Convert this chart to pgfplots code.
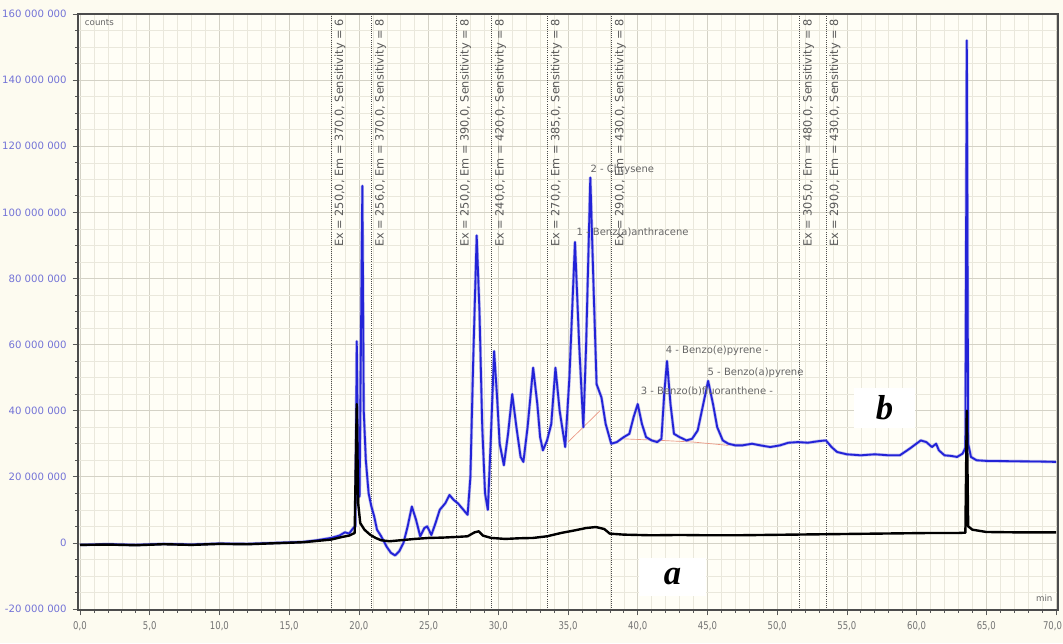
\documentclass[border=0pt]{standalone}
\usepackage{pgfplots}
\pgfplotsset{compat=1.18}
\usepackage{fontspec}
\setmainfont{DejaVu Sans}
\newfontfamily\tnr{Liberation Serif}
\definecolor{cream}{RGB}{253,251,240}
\definecolor{plotbg}{RGB}{255,254,246}
\definecolor{gridmaj}{RGB}{212,210,198}
\definecolor{gridmin}{RGB}{234,232,220}
\definecolor{ylab}{RGB}{115,115,215}
\definecolor{trace}{RGB}{35,35,215}
\definecolor{salmon}{RGB}{235,150,130}
\newcommand{\xl}[1]{\scalebox{0.8}[1]{#1}}

\pgfplotstableread{
t v
0 -0.6
2 -0.4
4 -0.6
6 -0.3
8 -0.5
10 -0.2
12 -0.3
14 0.0
16 0.3
17 0.8
18.0 1.5
18.6 2.2
19.0 3.2
19.3 2.8
19.6 4.5
19.75 5.0
19.85 61
19.95 20
20.05 14
20.25 108
20.35 40
20.5 25
20.7 15
20.9 11
21.1 8
21.3 4
21.6 2
22.0 -1.2
22.3 -3
22.6 -3.8
22.9 -2.5
23.2 0
23.5 5
23.8 11
24.1 7
24.4 2
24.7 4.5
24.9 5
25.2 2.4
25.5 6
25.8 10
26.2 12
26.5 14.5
26.8 13
27.1 12
27.5 10
27.8 8.5
28.0 20
28.2 55
28.45 93
28.65 70
28.85 35
29.05 15
29.25 10
29.45 30
29.7 58
29.9 45
30.1 30
30.4 23.5
30.7 33
31.0 45
31.3 35
31.6 26
31.8 24.5
32.1 35
32.5 53
32.8 42
33.0 32
33.2 28
33.5 31
33.8 36
34.1 53
34.4 40
34.8 29
35.1 50
35.5 91
35.8 60
36.1 35
36.3 60
36.6 110.5
36.85 75
37.05 48
37.4 44
37.7 36
38.1 30
38.5 30.5
39.0 32
39.4 33
39.7 38
40.0 42
40.3 36
40.6 32
41.0 31
41.4 30.5
41.7 31.5
41.9 45
42.1 55
42.35 42
42.6 33
43.0 32
43.5 31
43.9 31.5
44.3 34
44.7 42
45.05 49
45.4 42
45.7 35
46.1 31
46.5 30
47.0 29.5
47.5 29.5
48.2 30
48.8 29.5
49.5 29
50.2 29.5
50.8 30.3
51.5 30.5
52.2 30.3
53.0 30.8
53.5 31
53.9 29
54.3 27.5
55 26.8
56 26.5
57 26.8
58 26.5
58.8 26.5
59.5 28.5
60.3 31
60.7 30.5
61.1 29
61.4 30
61.6 28
62.0 26.5
62.5 26.3
62.9 26
63.3 27
63.5 28.8
63.6 152
63.7 30
63.9 26
64.3 25
65 24.8
67 24.7
69 24.6
70 24.5
}\blue

\pgfplotstableread{
t v
0 -0.6
2 -0.5
4 -0.7
6 -0.4
8 -0.6
10 -0.3
12 -0.4
14 -0.1
16 0.2
17 0.6
18 1.0
18.8 1.8
19.3 2.2
19.7 3
19.85 42
19.95 12
20.1 6
20.4 4
20.8 2.5
21.2 1.5
21.6 0.8
22.2 0.5
23 0.8
24 1.2
25 1.5
26 1.6
27 1.8
27.8 2.0
28.3 3.2
28.6 3.5
28.9 2.2
29.5 1.5
30.5 1.2
31.5 1.4
32.5 1.5
33.5 2.0
34.5 3.0
35.5 3.8
36.3 4.5
37.0 4.8
37.6 4.2
38.0 2.8
39 2.5
41 2.3
43 2.4
45 2.3
47 2.3
49 2.4
51 2.5
53 2.6
55 2.7
57 2.8
59 2.9
61 3.0
63 3.0
63.5 3.1
63.6 40
63.7 5
64 4
65 3.3
67 3.2
70 3.2
}\black

\begin{document}
\begin{tikzpicture}
\path[use as bounding box, fill=cream] (-58.5pt,-24.75pt) rectangle (738.75pt,457.5pt);
\begin{axis}[
  at={(0,0)}, anchor=south west,
  scale only axis, width=735pt, height=447pt,
  xmin=-0.143, xmax=70.143, ymin=-20.3, ymax=160,
  axis background/.style={fill=plotbg},
  xtick={0,5,...,70}, minor x tick num=4,
  ytick={-20,0,...,160}, minor y tick num=3,
  grid=both,
  major grid style={gridmaj, line width=0.45pt},
  minor grid style={gridmin, line width=0.35pt},
  tick align=outside, xtick pos=bottom, ytick pos=left,
  major tick length=4pt, minor tick length=2pt,
  tick style={black!65, line width=0.5pt},
  axis line style={black!70, line width=0.9pt},
  yticklabels={-20 000 000,0,20 000 000,40 000 000,60 000 000,80 000 000,100 000 000,120 000 000,140 000 000,160 000 000},
  xticklabels={{\xl{0,0}},{\xl{5,0}},{\xl{10,0}},{\xl{15,0}},{\xl{20,0}},{\xl{25,0}},{\xl{30,0}},{\xl{35,0}},{\xl{40,0}},{\xl{45,0}},{\xl{50,0}},{\xl{55,0}},{\xl{60,0}},{\xl{65,0}},{\makebox[9pt][r]{\xl{70,0}}}},
  yticklabel style={font=\fontsize{7.6}{8}\selectfont, text=ylab, xshift=-1pt},
  xticklabel style={font=\fontsize{8}{9}\selectfont, text=black!55, yshift=-1pt},
  clip=true,
]
% section markers
\foreach \xx in {18.0,20.9,27.0,29.5,33.5,38.1,51.6,53.5}{
  \edef\tmp{\noexpand\addplot[densely dotted, black!70, line width=0.6pt, forget plot] coordinates {(\xx,-20.3) (\xx,160)};}
  \tmp
}
% baselines
\addplot[salmon, line width=0.5pt, forget plot] coordinates {(35.0,30.5) (37.3,40)};
\addplot[salmon, line width=0.5pt, forget plot] coordinates {(38.8,31.5) (41.7,31.0) (44.0,30.5) (46.5,29.5)};
% traces
\addplot[trace!55, line width=2.4pt, line join=round, opacity=0.5, forget plot] table[x=t,y=v] {\blue};
\addplot[trace, line width=1.4pt, line join=round] table[x=t,y=v] {\blue};
\addplot[black, line width=1.8pt, line join=round] table[x=t,y=v] {\black};

\begin{scope}[every node/.style={rotate=90, anchor=north east, inner sep=2.5pt, text=black!65, font=\fontsize{8.5}{9}\selectfont}]
\node at (axis cs:18.0,159.5) {Ex = 250,0, Em = 370,0, Sensitivity = 6};
\node at (axis cs:20.9,159.5) {Ex = 256,0, Em = 370,0, Sensitivity = 8};
\node at (axis cs:27.0,159.5) {Ex = 250,0, Em = 390,0, Sensitivity = 8};
\node at (axis cs:29.5,159.5) {Ex = 240,0, Em = 420,0, Sensitivity = 8};
\node at (axis cs:33.5,159.5) {Ex = 270,0, Em = 385,0, Sensitivity = 8};
\node at (axis cs:38.1,159.5) {Ex = 290,0, Em = 430,0, Sensitivity = 8};
\node at (axis cs:51.6,159.5) {Ex = 305,0, Em = 480,0, Sensitivity = 8};
\node at (axis cs:53.5,159.5) {Ex = 290,0, Em = 430,0, Sensitivity = 8};
\end{scope}

\begin{scope}[every node/.style={anchor=west, inner sep=0pt, text=black!60, font=\fontsize{7.5}{9}\selectfont}]
\node at (axis cs:36.6,113) {2 - Chrysene};
\node at (axis cs:35.6,94) {1 - Benz(a)anthracene};
\node at (axis cs:42.0,58) {4 - Benzo(e)pyrene -};
\node at (axis cs:45.0,51.5) {5 - Benzo(a)pyrene};
\node at (axis cs:40.2,45.8) {3 - Benzo(b)fluoranthene -};
\end{scope}

\node[anchor=north west, text=black!60, font=\fontsize{6.5}{8}\selectfont, inner sep=0pt] at ([xshift=5pt,yshift=-4pt]rel axis cs:0,1) {counts};
\node[anchor=south east, text=black!60, font=\fontsize{6.5}{8}\selectfont, inner sep=0pt] at ([xshift=-4pt,yshift=6pt]rel axis cs:1,0) {min};

\node[fill=white, minimum width=46pt, minimum height=30pt, font=\tnr\bfseries\itshape\fontsize{26}{26}\selectfont] at (axis cs:57.7,40.9) {b};
\node[fill=white, minimum width=50pt, minimum height=28pt, font=\tnr\bfseries\itshape\fontsize{26}{26}\selectfont] at (axis cs:42.5,-10.3) {a};
\end{axis}
\end{tikzpicture}
\end{document}
